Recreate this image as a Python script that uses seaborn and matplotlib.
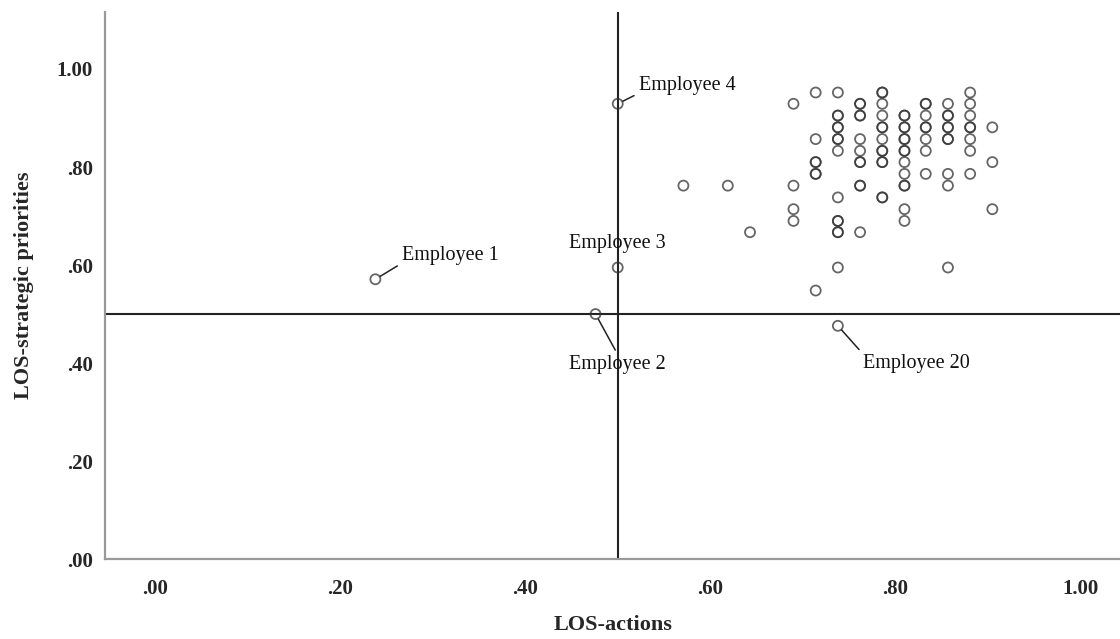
import numpy as np
import pandas as pd
import matplotlib
matplotlib.use("Agg")
import matplotlib.pyplot as plt
import seaborn as sns

# LOS-actions value of each column of points, and the LOS-strategic priorities
# values found in that column (repeats = overlapping respondents)
col_x = [0.571, 0.619, 0.643, 0.690, 0.714, 0.738, 0.762, 0.786, 0.810,
         0.833, 0.857, 0.881, 0.905]
col_y = [
    [0.762],
    [0.762],
    [0.667],
    [0.929, 0.762, 0.714, 0.690],
    [0.952, 0.857, 0.810, 0.810, 0.786, 0.786, 0.548],
    [0.952, 0.905, 0.905, 0.881, 0.881, 0.857, 0.857, 0.833, 0.738,
     0.690, 0.690, 0.667, 0.667, 0.595],
    [0.929, 0.929, 0.905, 0.905, 0.857, 0.833, 0.810, 0.810, 0.762,
     0.762, 0.667],
    [0.952, 0.952, 0.929, 0.905, 0.881, 0.881, 0.857, 0.833, 0.833,
     0.810, 0.810, 0.738, 0.738],
    [0.905, 0.905, 0.881, 0.881, 0.857, 0.857, 0.833, 0.833, 0.810,
     0.786, 0.762, 0.762, 0.714, 0.690],
    [0.929, 0.929, 0.905, 0.881, 0.881, 0.857, 0.833, 0.786],
    [0.929, 0.905, 0.905, 0.881, 0.881, 0.857, 0.857, 0.786, 0.762, 0.595],
    [0.952, 0.929, 0.905, 0.881, 0.881, 0.857, 0.833, 0.786],
    [0.881, 0.810, 0.714],
]

# labelled employees
emp_names = ["Employee 1", "Employee 2", "Employee 3", "Employee 4", "Employee 20"]
emp_x = [0.238, 0.476, 0.500, 0.500, 0.738]
emp_y = [0.571, 0.500, 0.595, 0.929, 0.476]

x_ticks = [0.0, 0.2, 0.4, 0.6, 0.8, 1.0]
y_ticks = [0.0, 0.2, 0.4, 0.6, 0.8, 1.0]
tick_labels = [".00", ".20", ".40", ".60", ".80", "1.00"]

sns.set_theme(style="white")
plt.rcParams["font.family"] = ["Liberation Serif", "DejaVu Serif"]

rows = []
for x, ys in zip(col_x, col_y):
    for y in ys:
        rows.append({"x": x, "y": y})
for x, y in zip(emp_x, emp_y):
    rows.append({"x": x, "y": y})
df = pd.DataFrame(rows)

fig = plt.figure(figsize=(11.2, 6.39), dpi=100)
ax = fig.add_axes([0.094, 0.125, 0.906, 0.856])

ax.axvline(0.5, color="#222222", lw=1.5, zorder=1)
ax.axhline(0.5, color="#222222", lw=1.5, zorder=1)

sns.scatterplot(data=df, x="x", y="y", ax=ax, marker="o", s=52,
                facecolor="none", edgecolor=(0.2, 0.2, 0.2, 0.75),
                linewidth=1.3, zorder=3)

# annotations: (offset in points, text alignment, arrow start on text box)
ann_style = {
    "Employee 1": ((19, 17), "left", "center", (0.0, 0.1)),
    "Employee 2": ((16, -36), "center", "center", (0.5, 1.0)),
    "Employee 3": ((0, 17), "center", "center", None),
    "Employee 4": ((15, 13), "left", "center", (0.0, 0.1)),
    "Employee 20": ((18, -27), "left", "center", (0.0, 1.0)),
}
for name, x, y in zip(emp_names, emp_x, emp_y):
    off, ha, va, rel = ann_style[name]
    arrow = None
    if rel is not None:
        arrow = dict(arrowstyle="-", color="#222222", lw=1.1,
                     relpos=rel, shrinkA=1, shrinkB=4)
    ax.annotate(name, xy=(x, y), xytext=off, textcoords="offset points",
                ha=ha, va=va, fontsize=14.5, color="#111111", arrowprops=arrow)

ax.set_xlim(-0.054, 1.043)
ax.set_ylim(0.0, 1.116)
ax.set_xticks(x_ticks)
ax.set_xticklabels(tick_labels, fontsize=15, fontweight="bold")
ax.set_yticks(y_ticks)
ax.set_yticklabels(tick_labels, fontsize=15, fontweight="bold")
ax.tick_params(axis="y", length=0, pad=9)
ax.tick_params(axis="x", length=0, pad=14)

ax.set_xlabel("LOS-actions", fontsize=16, fontweight="bold", labelpad=12)
ax.set_ylabel("LOS-strategic priorities", fontsize=16, fontweight="bold", labelpad=16)

for side in ["top", "right"]:
    ax.spines[side].set_visible(False)
for side in ["left", "bottom"]:
    ax.spines[side].set_color("#999999")
    ax.spines[side].set_linewidth(1.6)

fig.savefig("out.png", dpi=100)
